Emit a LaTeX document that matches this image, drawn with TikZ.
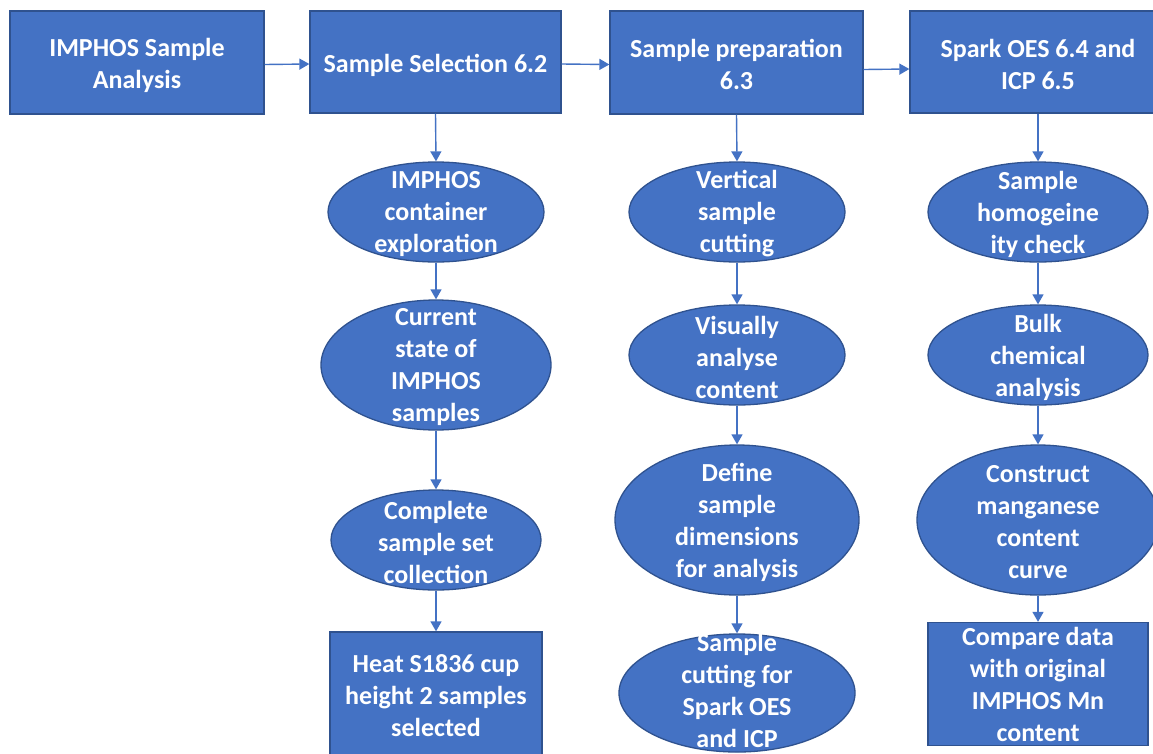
\documentclass[tikz,border=0pt]{standalone}
\usepackage{fontspec}
\setmainfont{Carlito}
\usetikzlibrary{shapes.geometric,arrows.meta}
\definecolor{fillblue}{HTML}{4472C4}
\definecolor{edgeblue}{HTML}{2F528F}
\begin{document}
\begin{tikzpicture}[x=1pt,y=-1pt,
  txt/.style={text=white, font=\bfseries\fontsize{26}{32}\selectfont, align=center, inner sep=0pt},
  rbox/.style={txt, rectangle, fill=fillblue, draw=edgeblue, line width=1.3pt},
  ell/.style={ellipse, fill=fillblue, draw=edgeblue, line width=1.3pt, inner sep=0pt},
  arr/.style={draw=fillblue, line width=1.4pt, -{Triangle[length=10pt,width=11pt]}}]
\useasboundingbox (0,0) rectangle (1153,753);
\fill[white] (0,0) rectangle (1153,753);
% top row
\node[rbox, minimum width=254pt, minimum height=103pt, label={[txt,yshift=-3pt]center:IMPHOS Sample\\Analysis}] (t1) at (137,62.5) {};
\node[rbox, minimum width=251pt, minimum height=102pt, label={[txt,yshift=-3pt]center:Sample Selection 6.2}] (t2) at (435.5,62) {};
\node[rbox, minimum width=253pt, minimum height=103pt, label={[txt,yshift=-2pt]center:Sample preparation\\6.3}] (t3) at (736.5,62.5) {};
\node[rbox, minimum width=256pt, minimum height=102pt, label={[txt,yshift=-2pt]center:Spark OES 6.4 and\\ICP 6.5}] (t4) at (1038,62) {};
% column 2
\node[ell, minimum width=216pt, minimum height=100pt, label={[txt,yshift=-2pt]center:IMPHOS\\container\\exploration}] (a1) at (436,212) {};
\node[ell, minimum width=230pt, minimum height=130pt, label={[txt,yshift=-2pt]center:Current\\state of\\IMPHOS\\samples}] (a2) at (436,365) {};
\node[ell, minimum width=210pt, minimum height=100pt, label={[txt,yshift=-2pt]center:Complete\\sample set\\collection}] (a3) at (436,540) {};
\node[rbox, minimum width=212pt, minimum height=128pt] (a4) at (436,696) {Heat S1836 cup\\height 2 samples\\selected};
% column 3
\node[ell, minimum width=216pt, minimum height=100pt, label={[txt,yshift=-2pt]center:Vertical\\sample\\cutting}] (b1) at (737,212) {};
\node[ell, minimum width=216pt, minimum height=100pt, label={[txt,yshift=-2pt]center:Visually\\analyse\\content}] (b2) at (737,355) {};
\node[ell, minimum width=244pt, minimum height=150pt, label={[txt,yshift=-2pt]center:Define\\sample\\dimensions\\for analysis}] (b3) at (737,520) {};
\node[ell, minimum width=236pt, minimum height=118pt, label={[txt,yshift=3pt]center:Sample\\cutting for\\Spark OES\\and ICP}] (b4) at (737,693) {};
% column 4
\node[ell, minimum width=220pt, minimum height=100pt, label={[txt,yshift=-2pt]center:Sample\\homogeine\\ity check}] (c1) at (1038,212) {};
\node[ell, minimum width=220pt, minimum height=100pt, label={[txt,yshift=-2pt]center:Bulk\\chemical\\analysis}] (c2) at (1038,355) {};
\node[ell, minimum width=242pt, minimum height=150pt, label={[txt,yshift=-2pt]center:Construct\\manganese\\content\\curve}] (c3) at (1038,520) {};
\node[rbox, minimum width=220pt, minimum height=123pt] (c4) at (1038,684) {Compare data\\with original\\IMPHOS Mn\\content};
% connectors
\draw[arr] ([yshift=-2pt]t1.east) -- ([yshift=-2pt]t2.west);
\draw[arr] ([yshift=-2pt]t2.east) -- ([yshift=-2pt]t3.west);
\draw[arr] ([yshift=-7pt]t3.east) -- ([yshift=-7pt]t4.west);
\draw[arr] (t2.south) -- (a1.north);
\draw[arr] (a1) -- (a2);
\draw[arr] (a2) -- (a3);
\draw[arr] (a3) -- (a4);
\draw[arr] (t3.south) -- (b1.north);
\draw[arr] (b1) -- (b2);
\draw[arr] (b2) -- (b3);
\draw[arr] (b3) -- (b4);
\draw[arr] (t4.south) -- (c1.north);
\draw[arr] (c1) -- (c2);
\draw[arr] (c2) -- (c3);
\draw[arr] (c3) -- (c4);
\end{tikzpicture}
\end{document}
